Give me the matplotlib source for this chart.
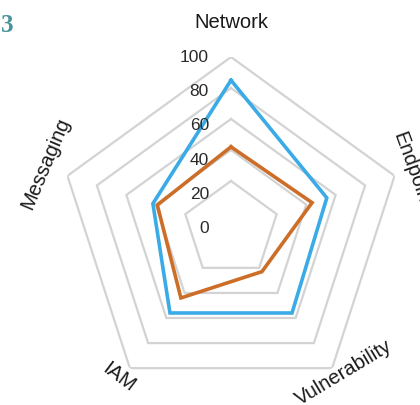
import numpy as np
import matplotlib
matplotlib.use("Agg")
import matplotlib.pyplot as plt

# ---- data ----
categories = ["Network", "Endpoint", "Vulnerability", "IAM", "Messaging"]
series_blue = [85, 54, 56, 56, 42]
series_orange = [42, 44, 23, 44, 39]
tick_values = [0, 20, 40, 60, 80, 100]
tick_labels = ["0", "20", "40", "60", "80", "100"]

BLUE = "#3AABE6"
ORANGE = "#CD6E28"
GRID = "#D3D3D3"

fig = plt.figure(figsize=(4.2, 4.05), dpi=100)
W, H = 420, 405
cx, cy, R = 231, 229, 172
ax = fig.add_axes([(cx - R) / W, (H - cy - R) / H, 2 * R / W, 2 * R / H], projection="polar")
ax.set_theta_zero_location("N")
ax.set_theta_direction(-1)
ax.set_ylim(-11, 100)
ax.grid(False)
ax.set_xticks([])
ax.set_yticks([])
ax.spines["polar"].set_visible(False)
ax.patch.set_alpha(0)

n = len(categories)
angles = np.linspace(0, 2 * np.pi, n, endpoint=False)
closed = np.concatenate([angles, angles[:1]])

# pentagon grid
for v in tick_values[1:]:
    ax.plot(closed, [v] * (n + 1), color=GRID, lw=1.6, zorder=1, solid_joinstyle="miter")

def close(vals):
    return list(vals) + [vals[0]]

ax.plot(closed, close(series_orange), color=ORANGE, lw=2.6, zorder=3, solid_joinstyle="miter")
ax.plot(closed, close(series_blue), color=BLUE, lw=2.6, zorder=3, solid_joinstyle="miter")

# radial tick labels
tick_font = ["Liberation Sans Narrow", "Liberation Sans", "DejaVu Sans"]
for v, lab in zip(tick_values, tick_labels):
    dy = -(17 - 0.17 * v)
    ax.annotate(lab, xy=(0, v), xytext=(-22, dy), textcoords="offset pixels",
                ha="right", va="center", fontsize=12.5, color="#2a2a2a",
                family=tick_font, zorder=4)

# category labels (angle offset deg, r, rotation)
label_font = ["Liberation Sans", "DejaVu Sans"]
label_pos = [(0, 122, 0), (0, 111.5, -70), (-2, 107, 31), (1, 109, -37), (1.5, 116, 67)]
for ang, cat, (dth, r, rot) in zip(angles, categories, label_pos):
    ax.text(ang + np.deg2rad(dth), r, cat, ha="center", va="center", rotation=rot,
            rotation_mode="anchor", fontsize=14.5, color="#1a1a1a", family=label_font,
            clip_on=False)

fig.text(13 / W, 1 - 25 / H, "3", ha="right", va="center", fontsize=18,
         fontweight="bold", color="#4A939C", family=["Liberation Serif", "DejaVu Serif"])

fig.savefig("out.png", dpi=100)
